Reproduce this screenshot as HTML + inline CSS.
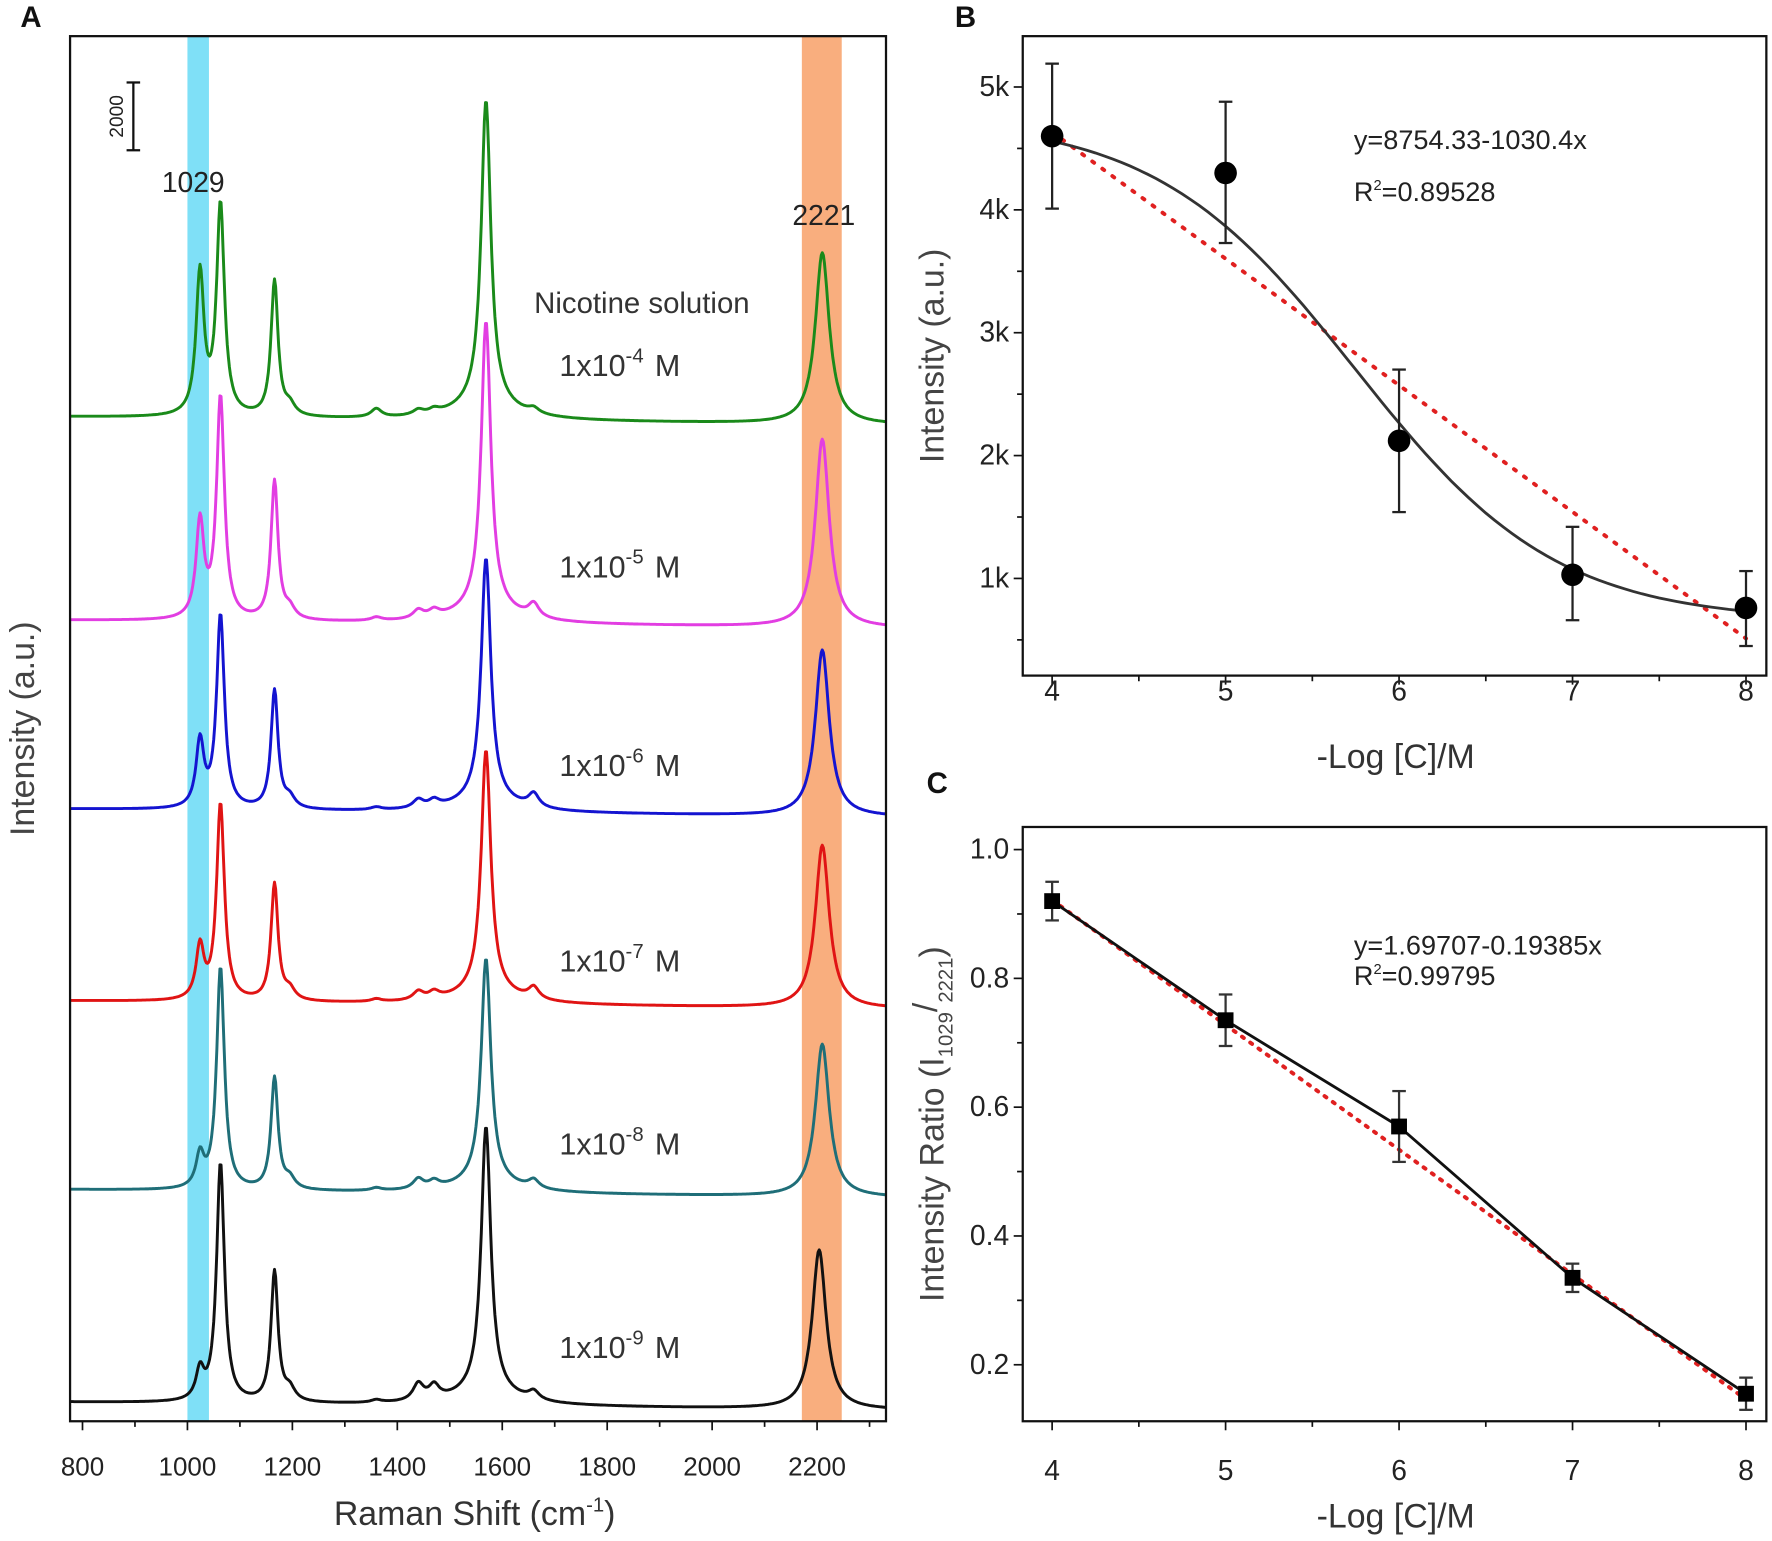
<!DOCTYPE html>
<html><head><meta charset="utf-8"><style>
html,body{margin:0;padding:0;background:#fff;}
svg{display:block;font-family:"Liberation Sans",Arial,sans-serif;}
</style></head><body>
<svg id="fig" width="1772" height="1541" viewBox="0 0 1568 1364" preserveAspectRatio="none" xmlns="http://www.w3.org/2000/svg"></svg>
<script>
// ---------- Panel A data ----------
const traceNames = ["1e-4","1e-5","1e-6","1e-7","1e-8","1e-9"];
const traceColors = ["#1a8a1a","#e23ee2","#1414d0","#e01414","#1f6e78","#111111"];
const traceLabels = ["-4","-5","-6","-7","-8","-9"];
const baselineCounts = [29300,23300,17730,12070,6500,230];
const peakPositions = [1024,1063,1166,1569,2210];
const peakWidths = [9,9,8,11,16];
const peak1029 = [4200,2850,1950,1550,950,850];
const peak1072 = [6200,6550,5700,5800,6550,7050];
const peak1178 = [4000,4100,3500,3450,3300,3850];
const peak1580 = [9000,8500,7150,7150,6600,7850];
const peak2221 = [5050,5550,4900,4800,4500,4700];
const peak2221Pos = [2210,2210,2210,2210,2210,2204];
const minorPositions = [1195,1360,1440,1470,1660];
const minorCounts = [[300,250,150,120,150],[300,100,250,200,400],[300,80,250,200,400],[300,80,250,200,350],[300,80,300,200,250],[350,80,500,400,250]];
const xTicksA = [800,1000,1200,1400,1600,1800,2000,2200];

// ---------- Panel B data ----------
const xB = [4,5,6,7,8];
const yB = [4600,4300,2120,1030,760];
const errLoB = [4010,3730,1540,660,450];
const errHiB = [5190,4880,2700,1420,1060];
const yTicksB = [1000,2000,3000,4000,5000];
const yTickLabelsB = ["1k","2k","3k","4k","5k"];
const fitB = [8754.33,-1030.4];
const sigB = [4750,650,5.75,0.58];

// ---------- Panel C data ----------
const xC = [4,5,6,7,8];
const yC = [0.92,0.735,0.57,0.335,0.155];
const errC = [0.03,0.04,0.055,0.022,0.025];
const yTicksC = [0.2,0.4,0.6,0.8,1.0];
const yTickLabelsC = ["0.2","0.4","0.6","0.8","1.0"];
const fitC = [1.69707,-0.19385];

const NS="http://www.w3.org/2000/svg";
const svg=document.getElementById('fig');
function el(tag,attrs,parent,text){const e=document.createElementNS(NS,tag);for(const k in attrs)e.setAttribute(k,attrs[k]);if(text!==undefined)e.textContent=text;(parent||svg).appendChild(e);return e;}

// ===== Panel A =====
const A={l:62,r:784,t:32,b:1258};
const xA=v=>73+(v-800)*0.46429;
const yA=c=>1248-c*0.03;
const gA=el('g',{},svg);


let r1=el('rect',{x:xA(1000),y:A.t,width:xA(1041)-xA(1000),height:A.b-A.t,fill:'#7fe0f7'},gA);

let r2=el('rect',{x:xA(2171),y:A.t,width:xA(2247)-xA(2171),height:A.b-A.t,fill:'#f9ae7e'},gA);

const lor=(x,x0,w)=>1/(1+((x-x0)/w)*((x-x0)/w));
for(let i=0;i<traceNames.length;i++){
  let d='';
  const amps=[peak1029[i],peak1072[i],peak1178[i],peak1580[i],peak2221[i]];
  for(let x=776;x<=2331;x+=2){
    let c=baselineCounts[i]-(x-776)*0.15;
    for(let k=0;k<5;k++){const p=k==4?peak2221Pos[i]:peakPositions[k];c+=amps[k]*lor(x,p,peakWidths[k]);}
    c+=0.05*peak1580[i]*lor(x,1569,70);
    for(let k=0;k<minorPositions.length;k++)c+=minorCounts[i][k]*lor(x,minorPositions[k],12);
    d+=(x==776?'M':'L')+xA(x).toFixed(1)+','+yA(c).toFixed(1);
  }
  const p=el('path',{d:d,fill:'none',stroke:traceColors[i],'stroke-width':2.6,'stroke-linejoin':'round'},gA);
  
  
}
el('rect',{x:A.l,y:A.t,width:A.r-A.l,height:A.b-A.t,fill:'none',stroke:'#111','stroke-width':2},gA);
for(let v=800;v<=2300;v+=100){const x=xA(v);el('line',{x1:x,x2:x,y1:A.b,y2:A.b+(v%200==0?8:5),stroke:'#111','stroke-width':1.5},gA);}
xTicksA.forEach(v=>{const t=el('text',{x:xA(v),y:1306,'font-size':23,'text-anchor':'middle',fill:'#222'},gA,String(v));});
let t=el('text',{x:420,y:1350,'font-size':30,'text-anchor':'middle',fill:'#333'},gA,'Raman Shift (cm');

el('tspan',{dy:-12,'font-size':18},t,'-1');el('tspan',{dy:12},t,')');
t=el('text',{x:0,y:0,'font-size':30,'text-anchor':'middle',fill:'#444',transform:'translate(30,645) rotate(-90)'},gA,'Intensity (a.u.)');

t=el('text',{x:18,y:24,'font-size':26,'font-weight':'bold',fill:'#111'},gA,'A');
el('line',{x1:118,x2:118,y1:73,y2:133,stroke:'#111','stroke-width':2},gA);
el('line',{x1:112,x2:124,y1:73,y2:73,stroke:'#111','stroke-width':2},gA);
el('line',{x1:112,x2:124,y1:133,y2:133,stroke:'#111','stroke-width':2},gA);
t=el('text',{x:0,y:0,'font-size':17,'text-anchor':'middle',fill:'#222',transform:'translate(109,103) rotate(-90)'},gA,'2000');
t=el('text',{x:171,y:170,'font-size':25,'text-anchor':'middle',fill:'#222'},gA,'1029');
t=el('text',{x:729,y:199,'font-size':25,'text-anchor':'middle',fill:'#222'},gA,'2221');
t=el('text',{x:568,y:277,'font-size':26,'text-anchor':'middle',fill:'#333'},gA,'Nicotine solution');
const labY=[333,511,687,860,1022,1202];
for(let i=0;i<6;i++){
  t=el('text',{x:495,y:labY[i],'font-size':27,fill:'#333'},gA,'1x10');
  
  el('tspan',{dy:-12,'font-size':18},t,traceLabels[i]);el('tspan',{dy:12,dx:10},t,'M');
}

// ===== Panel B =====
const B={l:905,r:1563,t:32,b:598};
const xs=v=>931+(v-4)*153.5;
const yBf=v=>512-(v-1000)*0.10875;
const gB=el('g',{},svg);
el('rect',{x:B.l,y:B.t,width:B.r-B.l,height:B.b-B.t,fill:'none',stroke:'#111','stroke-width':2},gB);
for(let v=4;v<=8;v+=0.5)el('line',{x1:xs(v),x2:xs(v),y1:B.b,y2:B.b+(v%1==0?8:5),stroke:'#111','stroke-width':1.5},gB);
for(let v=500;v<=5000;v+=500)el('line',{x1:B.l,x2:B.l-(v%1000==0?8:5),y1:yBf(v),y2:yBf(v),stroke:'#111','stroke-width':1.5},gB);
yTicksB.forEach((v,i)=>{const tt=el('text',{x:893,y:yBf(v)+8,'font-size':25,'text-anchor':'end',fill:'#222'},gB,yTickLabelsB[i]);});
[4,5,6,7,8].forEach(v=>{const tt=el('text',{x:xs(v),y:620,'font-size':25,'text-anchor':'middle',fill:'#222'},gB,String(v));});
t=el('text',{x:1235,y:680,'font-size':30,'text-anchor':'middle',fill:'#333'},gB,'-Log [C]/M');
t=el('text',{x:0,y:0,'font-size':30,'text-anchor':'middle',fill:'#444',transform:'translate(835,315) rotate(-90)'},gB,'Intensity (a.u.)');
t=el('text',{x:845,y:24,'font-size':26,'font-weight':'bold',fill:'#111'},gB,'B');
let p=el('line',{x1:xs(4),y1:yBf(fitB[0]+fitB[1]*4),x2:xs(8),y2:yBf(fitB[0]+fitB[1]*8),stroke:'#e02020','stroke-width':3.5,'stroke-dasharray':'2 9','stroke-linecap':'round'},gB);

let d='';for(let x=4;x<=8.001;x+=0.05){const v=sigB[1]+(sigB[0]-sigB[1])/(1+Math.exp((x-sigB[2])/sigB[3]));d+=(d?'L':'M')+xs(x).toFixed(1)+','+yBf(v).toFixed(1);}
p=el('path',{d:d,fill:'none',stroke:'#333','stroke-width':2.5},gB);
xB.forEach((x,i)=>{
  const g=el('g',{},gB);
  el('line',{x1:xs(x),x2:xs(x),y1:yBf(errLoB[i]),y2:yBf(errHiB[i]),stroke:'#222','stroke-width':2},g);
  el('line',{x1:xs(x)-6,x2:xs(x)+6,y1:yBf(errLoB[i]),y2:yBf(errLoB[i]),stroke:'#222','stroke-width':2},g);
  el('line',{x1:xs(x)-6,x2:xs(x)+6,y1:yBf(errHiB[i]),y2:yBf(errHiB[i]),stroke:'#222','stroke-width':2},g);
  el('circle',{cx:xs(x),cy:yBf(yB[i]),r:10,fill:'#000'},g);
});
t=el('text',{x:1198,y:132,'font-size':24,fill:'#222'},gB,'y=8754.33-1030.4x');
t=el('text',{x:1198,y:178,'font-size':24,fill:'#222'},gB,'R');
el('tspan',{dy:-10,'font-size':13},t,'2');el('tspan',{dy:10},t,'=0.89528');

// ===== Panel C =====
const C={l:905,r:1563,t:732,b:1258};
const yCf=v=>752+(1-v)*570;
const gC=el('g',{},svg);
el('rect',{x:C.l,y:C.t,width:C.r-C.l,height:C.b-C.t,fill:'none',stroke:'#111','stroke-width':2},gC);
for(let v=4;v<=8;v+=0.5)el('line',{x1:xs(v),x2:xs(v),y1:C.b,y2:C.b+(v%1==0?8:5),stroke:'#111','stroke-width':1.5},gC);
for(let k=2;k<=10;k++){const v=k/10;el('line',{x1:C.l,x2:C.l-(k%2==0?8:5),y1:yCf(v),y2:yCf(v),stroke:'#111','stroke-width':1.5},gC);}
yTicksC.forEach((v,i)=>{const tt=el('text',{x:893,y:yCf(v)+8,'font-size':25,'text-anchor':'end',fill:'#222'},gC,yTickLabelsC[i]);});
[4,5,6,7,8].forEach(v=>{const tt=el('text',{x:xs(v),y:1310,'font-size':25,'text-anchor':'middle',fill:'#222'},gC,String(v));});
t=el('text',{x:1235,y:1352,'font-size':30,'text-anchor':'middle',fill:'#333'},gC,'-Log [C]/M');
t=el('text',{x:0,y:0,'font-size':30,'text-anchor':'middle',fill:'#444',transform:'translate(835,995) rotate(-90)'},gC,'Intensity Ratio (I');
el('tspan',{dy:8,'font-size':18},t,'1029');el('tspan',{dy:-14,'font-size':30},t,'/');el('tspan',{dy:14,'font-size':18},t,'2221');el('tspan',{dy:-8,'font-size':30},t,')');
t=el('text',{x:820,y:702,'font-size':26,'font-weight':'bold',fill:'#111'},gC,'C');
p=el('line',{x1:xs(4),y1:yCf(fitC[0]+fitC[1]*4),x2:xs(8),y2:yCf(fitC[0]+fitC[1]*8),stroke:'#e02020','stroke-width':3.5,'stroke-dasharray':'2 7','stroke-linecap':'round'},gC);

p=el('polyline',{points:xC.map((x,i)=>xs(x)+','+yCf(yC[i])).join(' '),fill:'none',stroke:'#111','stroke-width':2.5},gC);

xC.forEach((x,i)=>{
  const g=el('g',{},gC);
  const lo=yCf(yC[i]-errC[i]),hi=yCf(yC[i]+errC[i]);
  el('line',{x1:xs(x),x2:xs(x),y1:lo,y2:hi,stroke:'#333','stroke-width':2},g);
  el('line',{x1:xs(x)-6,x2:xs(x)+6,y1:lo,y2:lo,stroke:'#333','stroke-width':2},g);
  el('line',{x1:xs(x)-6,x2:xs(x)+6,y1:hi,y2:hi,stroke:'#333','stroke-width':2},g);
  el('rect',{x:xs(x)-7,y:yCf(yC[i])-7,width:14,height:14,fill:'#000'},g);
});
t=el('text',{x:1198,y:845,'font-size':24,fill:'#222'},gC,'y=1.69707-0.19385x');
t=el('text',{x:1198,y:872,'font-size':24,fill:'#222'},gC,'R');
el('tspan',{dy:-10,'font-size':13},t,'2');el('tspan',{dy:10},t,'=0.99795');
</script>
</body></html>
